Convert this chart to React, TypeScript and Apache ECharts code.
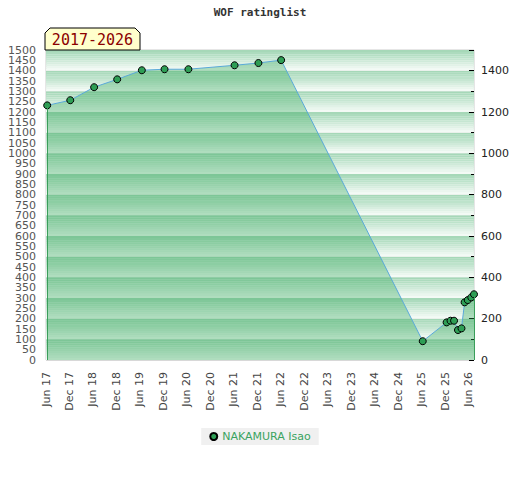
import React, { useEffect, useRef } from "react";
import * as echarts from "echarts";

// months since June 2017
const monthOffsets = [0.3, 6.2, 12.3, 18.2, 24.5, 30.3, 36.4, 48.2, 54.3, 60.1, 96.3, 102.4, 103.4, 104.3, 105.3, 106.2, 107.0, 107.8, 108.7, 109.4];
const ratings = [1232, 1257, 1320, 1358, 1402, 1407, 1407, 1426, 1437, 1451, 91, 182, 190, 190, 145, 153, 279, 290, 303, 318];
const xTickLabels = [
  "Jun 17", "Dec 17", "Jun 18", "Dec 18", "Jun 19", "Dec 19", "Jun 20", "Dec 20",
  "Jun 21", "Dec 21", "Jun 22", "Dec 22", "Jun 23", "Dec 23", "Jun 24", "Dec 24",
  "Jun 25", "Dec 25", "Jun 26",
];
const playerName = "NAKAMURA Isao";
const chartTitle = "WOF ratinglist";
const yearRange = "2017-2026";

const stripeColors = [
  "#f3faf5", "#eaf6ee", "#e1f2e7", "#d8eee0", "#cfead9",
  "#c6e6d2", "#bde3cb", "#b5dfc4", "#addbbe", "#a6d8b8",
];

const leftLabelStyle = { color: "#555", fontSize: 11, lineHeight: 10, fontFamily: "DejaVu Sans", margin: 10 };

export default function App() {
  const ref = useRef<HTMLDivElement>(null);
  useEffect(() => {
    document.body.style.margin = "0";
    const chart = echarts.init(ref.current!, null, { renderer: "svg" });
    const data = monthOffsets.map((m, i) => [m, ratings[i]]);
    const first = data[0];
    const last = data[data.length - 1];
    chart.setOption({
      animation: false,
      title: {
        text: chartTitle,
        left: "center",
        top: 2,
        textStyle: { fontFamily: "DejaVu Sans Mono", fontWeight: "bold", fontSize: 11, color: "#333" },
      },
      legend: {
        data: [playerName],
        top: 428,
        left: "center",
        icon: "circle",
        itemWidth: 7,
        itemHeight: 7,
        itemGap: 10,
        backgroundColor: "#f0f0f0",
        padding: [3, 8, 3, 8],
        textStyle: { color: "#3aa35f", fontSize: 11, fontFamily: "DejaVu Sans" },
      },
      grid: {
        left: 46,
        right: 46,
        top: 50,
        bottom: 120,
        show: true,
        borderColor: "#cccccc",
        borderWidth: 1,
        backgroundColor: "transparent",
      },
      xAxis: {
        type: "value",
        min: 0,
        max: 109.4,
        interval: 6,
        axisLine: { show: false },
        axisTick: { show: false },
        splitLine: { show: false },
        axisLabel: {
          rotate: 90,
          margin: 12,
          color: "#444",
          fontSize: 11,
          fontFamily: "DejaVu Sans",
          showMaxLabel: false,
          formatter: (v: number) => (v % 6 === 0 ? xTickLabels[v / 6] ?? "" : ""),
        },
      },
      yAxis: [
        {
          type: "value",
          position: "left",
          min: 0,
          max: 1500,
          interval: 100,
          axisLine: { show: false },
          axisTick: { show: false },
          splitLine: { show: false },
          axisLabel: { ...leftLabelStyle, formatter: (v: number) => String(v) },
        },
        {
          type: "value",
          position: "right",
          min: 0,
          max: 1500,
          interval: 200,
          axisLine: { show: false },
          axisTick: { show: true, inside: true, length: 5, lineStyle: { color: "#000" } },
          minorTick: { show: true, splitNumber: 2, length: 3, lineStyle: { color: "#000" } },
          splitLine: { show: true, lineStyle: { color: "#d8d8d8", width: 1 } },
          minorSplitLine: { show: true, lineStyle: { color: "#d8d8d8", width: 1 } },
          axisLabel: {
            color: "#222",
            fontSize: 11,
            fontFamily: "DejaVu Sans",
            margin: 7,
            showMinLabel: true,
            formatter: (v: number) => (v % 200 === 0 ? String(v) : ""),
          },
        },
        {
          type: "value",
          position: "left",
          min: 0,
          max: 1500,
          interval: 10,
          axisLine: { show: false },
          axisTick: { show: false },
          axisLabel: { show: false },
          splitLine: { show: false },
          splitArea: { show: true, areaStyle: { color: stripeColors } },
          z: 0,
        },
        {
          type: "value",
          position: "left",
          min: 0,
          max: 1500,
          interval: 50,
          axisLine: { show: false },
          axisTick: { show: false },
          splitLine: { show: false },
          axisLabel: {
            ...leftLabelStyle,
            showMinLabel: false,
            showMaxLabel: false,
            formatter: (v: number) => (v % 100 === 50 ? String(v) : ""),
          },
        },
      ],
      graphic: [
        {
          type: "polygon",
          shape: { points: [[45, 50], [45, 33], [50, 28], [135, 28], [140, 33], [140, 50]] },
          style: { fill: "#ffffcc", stroke: "#000", lineWidth: 1 },
          z: 10,
        },
        {
          type: "text",
          x: 92.5,
          y: 40,
          style: {
            text: yearRange,
            fill: "#8b0000",
            font: "15px 'DejaVu Sans Mono'",
            align: "center",
            verticalAlign: "middle",
          },
          z: 11,
        },
      ],
      series: [
        {
          name: playerName,
          type: "line",
          yAxisIndex: 0,
          data,
          symbol: "circle",
          symbolSize: 7,
          itemStyle: { color: "#2e9e55", borderColor: "#000", borderWidth: 1 },
          lineStyle: { color: "#5aa9d9", width: 1 },
          areaStyle: { color: "rgba(50,165,90,0.5)" },
          markLine: {
            silent: true,
            symbol: "none",
            label: { show: false },
            lineStyle: { color: "#3a9e5a", type: "solid", width: 1 },
            data: [
              [{ coord: [first[0], 0] }, { coord: [first[0], first[1]] }],
              [{ coord: [last[0], 0] }, { coord: [last[0], last[1]] }],
            ],
          },
        },
      ],
    });
    return () => chart.dispose();
  }, []);
  return <div ref={ref} style={{ width: 520, height: 480 }} />;
}
